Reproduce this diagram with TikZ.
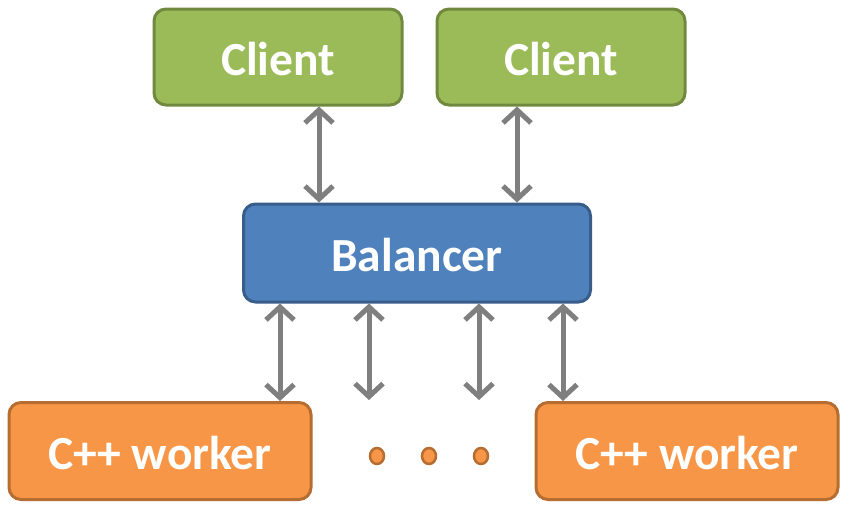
\documentclass[tikz,border=0pt]{standalone}
\usepackage{fontspec}
\setmainfont{Carlito}
\usetikzlibrary{arrows.meta, shapes.geometric}

\definecolor{clientfill}{HTML}{9BBB59}
\definecolor{clientline}{HTML}{71893F}
\definecolor{balfill}{HTML}{4F81BD}
\definecolor{balline}{HTML}{385D8A}
\definecolor{workfill}{HTML}{F79646}
\definecolor{workline}{HTML}{B66D31}
\definecolor{linkgray}{HTML}{7F7F7F}

\tikzset{
    box/.style={rounded corners=12pt, line width=3pt, text=white, inner sep=0pt,
        text height=37pt, text depth=0pt, font=\bfseries\fontsize{47.5}{52}\selectfont},
    clientbox/.style={box, draw=clientline, fill=clientfill, minimum width=248pt, minimum height=96pt},
    balbox/.style={box, draw=balline, fill=balfill, minimum width=347pt, minimum height=98pt},
    workbox/.style={box, draw=workline, fill=workfill, minimum width=302pt, minimum height=97pt},
    link/.style={draw=linkgray, line width=5pt,
        {Straight Barb[length=13pt, width=28pt, line width=5pt]}-{Straight Barb[length=13pt, width=28pt, line width=5pt]}},
    dot/.style={ellipse, draw=workline, fill=workfill, line width=2.5pt, minimum width=14pt,
        minimum height=16pt, inner sep=0pt}
}

\begin{document}
\begin{tikzpicture}[x=1pt, y=-1pt]
    \useasboundingbox[fill=white] (0,0) rectangle (852,512);

    \node[clientbox] (client1) at (278,57) {Client};
    \node[clientbox] (client2) at (561,57) {Client};
    \node[balbox] (bal) at (417,253) {Balancer};
    \node[workbox] (work1) at (160,451) {C++ worker};
    \node[workbox] (work2) at (687,451) {C++ worker};

    \node[dot] (dot1) at (377,456) {};
    \node[dot] (dot2) at (429,456) {};
    \node[dot] (dot3) at (481,456) {};

    % clients <-> balancer
    \draw[link] ([xshift=41pt]client1.south) -- ([xshift=-98pt]bal.north);
    \draw[link] ([xshift=-44pt]client2.south) -- ([xshift=100pt]bal.north);

    % balancer <-> workers
    \coordinate (free1) at (369,400);
    \coordinate (free2) at (479,400);
    \draw[link] ([xshift=-137pt]bal.south) -- ([xshift=120pt]work1.north);
    \draw[link] ([xshift=-48pt]bal.south) -- (free1);
    \draw[link] ([xshift=62pt]bal.south) -- (free2);
    \draw[link] ([xshift=146pt]bal.south) -- ([xshift=-124pt]work2.north);
\end{tikzpicture}
\end{document}
